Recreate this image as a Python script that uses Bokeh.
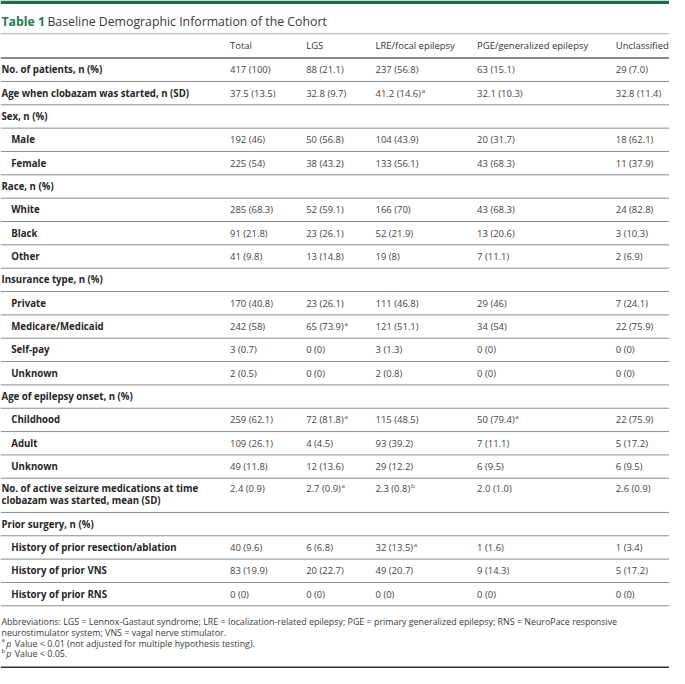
from bokeh.plotting import figure
from bokeh.models import Range1d
from bokeh.embed import file_html
from bokeh.resources import INLINE
from bokeh.core.properties import value

# ---------------- data ----------------
title_num = "Table 1"
title_text = "Baseline Demographic Information of the Cohort"
columns = ["Total", "LGS", "LRE/focal epilepsy", "PGE/generalized epilepsy", "Unclassified"]

row_labels = [
    ["No. of patients, n (%)"],
    ["Age when clobazam was started, n (SD)"],
    ["Sex, n (%)"],
    ["Male"],
    ["Female"],
    ["Race, n (%)"],
    ["White"],
    ["Black"],
    ["Other"],
    ["Insurance type, n (%)"],
    ["Private"],
    ["Medicare/Medicaid"],
    ["Self-pay"],
    ["Unknown"],
    ["Age of epilepsy onset, n (%)"],
    ["Childhood"],
    ["Adult"],
    ["Unknown"],
    ["No. of active seizure medications at time", "clobazam was started, mean (SD)"],
    ["Prior surgery, n (%)"],
    ["History of prior resection/ablation"],
    ["History of prior VNS"],
    ["History of prior RNS"],
]
row_level = [0, 0, 0, 1, 1, 0, 1, 1, 1, 0, 1, 1, 1, 1, 0, 1, 1, 1, 0, 0, 1, 1, 1]

total_vals = ["417 (100)", "37.5 (13.5)", "", "192 (46)", "225 (54)", "", "285 (68.3)", "91 (21.8)",
              "41 (9.8)", "", "170 (40.8)", "242 (58)", "3 (0.7)", "2 (0.5)", "", "259 (62.1)",
              "109 (26.1)", "49 (11.8)", "2.4 (0.9)", "", "40 (9.6)", "83 (19.9)", "0 (0)"]
lgs_vals = ["88 (21.1)", "32.8 (9.7)", "", "50 (56.8)", "38 (43.2)", "", "52 (59.1)", "23 (26.1)",
            "13 (14.8)", "", "23 (26.1)", "65 (73.9)ᵃ", "0 (0)", "0 (0)", "", "72 (81.8)ᵃ",
            "4 (4.5)", "12 (13.6)", "2.7 (0.9)ᵃ", "", "6 (6.8)", "20 (22.7)", "0 (0)"]
lre_vals = ["237 (56.8)", "41.2 (14.6)ᵃ", "", "104 (43.9)", "133 (56.1)", "", "166 (70)", "52 (21.9)",
            "19 (8)", "", "111 (46.8)", "121 (51.1)", "3 (1.3)", "2 (0.8)", "", "115 (48.5)",
            "93 (39.2)", "29 (12.2)", "2.3 (0.8)ᵇ", "", "32 (13.5)ᵃ", "49 (20.7)", "0 (0)"]
pge_vals = ["63 (15.1)", "32.1 (10.3)", "", "20 (31.7)", "43 (68.3)", "", "43 (68.3)", "13 (20.6)",
            "7 (11.1)", "", "29 (46)", "34 (54)", "0 (0)", "0 (0)", "", "50 (79.4)ᵃ",
            "7 (11.1)", "6 (9.5)", "2.0 (1.0)", "", "1 (1.6)", "9 (14.3)", "0 (0)"]
uncl_vals = ["29 (7.0)", "32.8 (11.4)", "", "18 (62.1)", "11 (37.9)", "", "24 (82.8)", "3 (10.3)",
             "2 (6.9)", "", "7 (24.1)", "22 (75.9)", "0 (0)", "0 (0)", "", "22 (75.9)",
             "5 (17.2)", "6 (9.5)", "2.6 (0.9)", "", "1 (3.4)", "5 (17.2)", "0 (0)"]
col_values = [total_vals, lgs_vals, lre_vals, pge_vals, uncl_vals]

foot_lines = [
    "Abbreviations: LGS = Lennox-Gastaut syndrome; LRE = localization-related epilepsy; PGE = primary generalized epilepsy; RNS = NeuroPace responsive",
    "neurostimulator system; VNS = vagal nerve stimulator.",
]
foot_marks = ["a", "b"]
foot_notes = ["Value < 0.01 (not adjusted for multiple hypothesis testing).", "Value < 0.05."]

# ---------------- layout ----------------
W, H = 669, 668
REF_W, REF_H = 685, 684
S = W / REF_W
FONT = value("Open Sans")

p = figure(width=W, height=H, x_range=Range1d(0, REF_W), y_range=Range1d(REF_H, 0),
           output_backend="svg", toolbar_location=None, min_border=0,
           x_axis_location=None, y_axis_location=None)
p.grid.visible = False
p.outline_line_color = None
p.background_fill_color = "white"
p.border_fill_color = "white"

def fs(px):
    return f"{px * S:.2f}px"

def txt(x, y, t, size, color="#333333", style="normal", align="left"):
    p.text(x=[x], y=[y], text=[t], text_font=FONT, text_font_size=fs(size),
           text_color=color, text_font_style=style, text_align=align, text_baseline="middle")

def hline(y, color, width, x0=0, x1=REF_W):
    p.segment(x0=[x0], y0=[y], x1=[x1], y1=[y], line_color=color, line_width=width)

# Open Sans Regular advance widths (em) for the characters used in the values
ADV = {d: 0.572 for d in "0123456789"}
ADV.update({" ": 0.26, "(": 0.295, ")": 0.295, ".": 0.266})

def text_width(s, size):
    return sum(ADV.get(c, 0.55) for c in s) * size

# top green bar
p.quad(left=[0], right=[REF_W], top=[0], bottom=[3.5], fill_color="#1f6b4c", line_color=None)

# title
txt(1, 21, title_num, 12.6, color="#1e7a50", style="bold")
txt(48, 21, title_text, 12.6, color="#3a3a3a")
hline(34, "#9fb3aa", 1)

BODY = 9.7
LABEL = 9.9
col_x = [235, 313, 384, 488, 630]
for cx, name in zip(col_x, columns):
    txt(cx, 46, name, BODY, color="#333333")
hline(59, "#8a8a8a", 2)

MARKS = {"ᵃ": "a", "ᵇ": "b"}
ROW_H = 23.9
DBL_H = 35.0
top = 59.0
for i, lab in enumerate(row_labels):
    h = DBL_H if len(lab) > 1 else ROW_H
    lx = 1 if row_level[i] == 0 else 11
    if len(lab) > 1:
        ys = [top + 10.5, top + 22.5]
    else:
        ys = [top + h / 2]
    for k, line in enumerate(lab):
        txt(lx, ys[k], line, LABEL, color="#262626", style="bold")
    for cx, vals in zip(col_x, col_values):
        v = vals[i]
        if not v:
            continue
        mark = None
        if v[-1] in MARKS:
            mark = MARKS[v[-1]]
            v = v[:-1]
        txt(cx, ys[0], v, BODY, color="#444444")
        if mark:
            txt(cx + text_width(v, BODY) + 0.6, ys[0] - 3.2, mark, 6.3, color="#444444")
    top += h
    hline(top, "#8c8c8c", 1)

# footnotes
FOOT = 9.1
fy = [636, 647, 658, 669]
txt(1, fy[0], foot_lines[0], FOOT, color="#3a3a3a")
txt(1, fy[1], foot_lines[1], FOOT, color="#3a3a3a")
for j, (m, note) in enumerate(zip(foot_marks, foot_notes)):
    y = fy[2 + j]
    txt(1, y - 3, m, 6.2, color="#3a3a3a")
    txt(6, y, "p", FOOT, color="#3a3a3a", style="italic")
    txt(14.5, y, note, FOOT, color="#3a3a3a")
hline(683, "#333333", 2)

open("out.html", "w").write(file_html(p, INLINE))
